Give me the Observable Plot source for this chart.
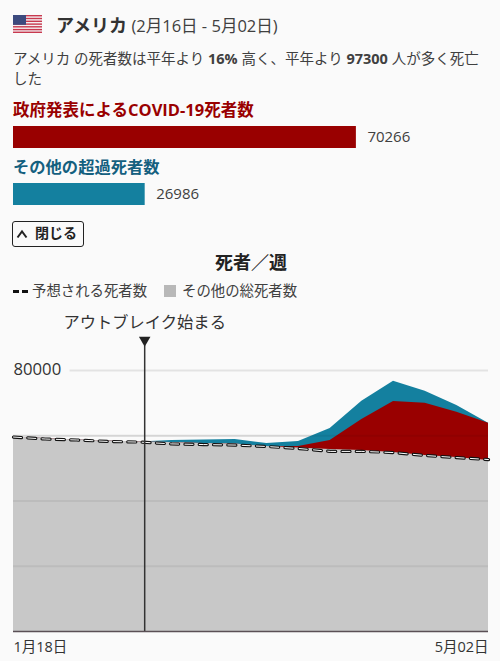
<!DOCTYPE html>
<html lang="ja"><head><meta charset="utf-8">
<script src="https://cdn.jsdelivr.net/npm/d3@7"></script>
<script src="https://cdn.jsdelivr.net/npm/@observablehq/plot@0.6"></script>
<style>
html,body{margin:0;padding:0;background:#fafafa;width:500px;height:661px;overflow:hidden}
body{position:relative;font-family:"Open Sans","Noto Sans CJK JP",sans-serif;color:#404040}
.a{position:absolute;white-space:nowrap}
svg{display:block;background:transparent}
</style></head><body>
<svg class="a" style="left:13px;top:15px" width="29" height="18" viewBox="0 0 29 18">
<rect width="29" height="18" fill="#f4f0f2"/>
<g fill="#c8394f"><rect y="0" width="29" height="1.4"/><rect y="2.8" width="29" height="1.4"/><rect y="5.6" width="29" height="1.4"/><rect y="8.4" width="29" height="1.4"/><rect y="11.1" width="29" height="1.4"/><rect y="13.9" width="29" height="1.4"/><rect y="16.6" width="29" height="1.4"/></g>
<rect width="13" height="9.8" fill="#3c4a7e"/></svg>
<div class="a" style="left:56px;top:12px;line-height:26px;font-size:16.5px"><b style="font-size:18px;color:#333">アメリカ</b> (2月16日 - 5月02日)</div>
<div class="a" style="left:13px;top:49px;line-height:20px;font-size:14.5px;width:475px;white-space:normal">アメリカ の死者数は平年より <b>16%</b> 高く、平年より <b>97300</b> 人が多く死亡した</div>
<div class="a" style="left:13px;top:98px;line-height:24px;font-size:16.5px;font-weight:700;color:#990000">政府発表によるCOVID-19死者数</div>
<div class="a" id="bar1" style="left:0;top:126px"></div>
<div class="a" style="left:13px;top:155px;line-height:24px;font-size:16.3px;font-weight:700;color:#14607f">その他の超過死者数</div>
<div class="a" id="bar2" style="left:0;top:183px"></div>
<div class="a" style="left:12px;top:221px;width:70px;height:24px;border:1px solid #222;border-radius:3px;line-height:22px;font-size:14px;font-weight:700;color:#222;background:#fafafa">
<svg class="a" style="left:3px;top:7px" width="12" height="10" viewBox="0 0 12 10"><polyline points="1.5,8.5 6,2.5 10.5,8.5" fill="none" stroke="#222" stroke-width="2"/></svg>
<span class="a" style="left:22px;top:0">閉じる</span></div>
<div class="a" style="left:0;width:500px;text-align:center;top:250px;line-height:24px;font-size:18px;font-weight:700;color:#222;padding-left:1px">死者／週</div>
<div class="a" style="left:13px;top:281px;line-height:20px;font-size:14.4px">
<svg class="a" style="left:0;top:9px" width="15" height="3"><path d="M0 1.5H6M9 1.5H15" stroke="#111" stroke-width="3"/></svg>
<span class="a" style="left:19px;top:0">予想される死者数</span>
<svg class="a" style="left:151px;top:4px" width="12" height="12"><rect width="12" height="12" fill="#b8b8b8"/></svg>
<span class="a" style="left:169px;top:0">その他の総死者数</span></div>
<div class="a" id="chart" style="left:0;top:310px"></div>
<script>
const weeks = ["2020-01-18","2020-01-25","2020-02-01","2020-02-08","2020-02-15","2020-02-22","2020-02-29","2020-03-07","2020-03-14","2020-03-21","2020-03-28","2020-04-04","2020-04-11","2020-04-18","2020-04-25","2020-05-02"];
const expectedDeaths = [59600,59000,58700,58250,58050,57500,57300,57150,56700,56100,55200,55200,54850,53950,53300,52700];
const otherTotal     = [59600,59150,58700,58400,58100,57900,57600,57450,56700,56250,55800,55500,54850,53950,53300,52400];
const withCovid      = [59600,59150,58700,58400,58100,57900,57600,57450,56700,56700,58550,65000,70500,70000,67200,63850];
const withExcess     = [59600,59150,58700,58400,58100,58550,58700,58850,57600,58250,62200,70600,76700,73650,69250,63850];
const gridValues = [20000,40000,60000,80000];
const covidDeaths = 70266, excessDeaths = 26986;
const outbreak = "2020-02-16";
const firstLabel = "1月18日", lastLabel = "5月02日", yLabel = "80000", outbreakLabel = "アウトブレイク始まる";
const colors = {covid:"#990000", excess:"#14809f", other:"#c8c8c8"};
const font = '"Open Sans","Noto Sans CJK JP",sans-serif';

const table = weeks.map((w,i)=>({date:new Date(w),expected:expectedDeaths[i],other:otherTotal[i],covid:withCovid[i],excess:withExcess[i]}));
const outbreakDate = new Date(outbreak);

function hbar(id,value,color){
  document.getElementById(id).append(Plot.plot({
    width:500,height:22,marginLeft:13,marginRight:0,marginTop:0,marginBottom:0,
    style:{background:"transparent",fontFamily:font},
    x:{domain:[0,99800],axis:null},y:{axis:null,domain:[0,1]},
    marks:[
      Plot.rectX([value],{x1:0,x2:d=>d,y1:0,y2:1,fill:color}),
      Plot.text([value],{x:d=>d,y:0.5,text:d=>String(d),dx:11,textAnchor:"start",fontSize:15,fill:"#404040"})
    ]}));
}
hbar("bar1",covidDeaths,colors.covid);
hbar("bar2",excessDeaths,colors.excess);

const d0=table[0].date,d1=table[table.length-1].date;
document.getElementById("chart").append(Plot.plot({
  width:500,height:351,marginLeft:13,marginRight:12,marginTop:60,marginBottom:30,
  style:{background:"transparent",fontFamily:font,overflow:"visible"},
  x:{type:"utc",domain:[d0,d1],axis:null},
  y:{domain:[0,80000],axis:null},
  marks:[
    Plot.ruleY(gridValues.filter(v=>v===80000),{y:d=>d,x1:new Date("2020-01-30T12:00Z"),x2:d1,stroke:"#000",strokeOpacity:0.09,strokeWidth:2}),
    Plot.ruleY(gridValues.filter(v=>v!==80000),{y:d=>d,x1:d0,x2:d1,stroke:"#000",strokeOpacity:0.09,strokeWidth:2}),
    Plot.areaY(table,{x:"date",y1:0,y2:"excess",fill:colors.excess}),
    Plot.areaY(table,{x:"date",y1:0,y2:"covid",fill:colors.covid}),
    Plot.areaY(table,{x:"date",y1:0,y2:"other",fill:colors.other}),
    Plot.ruleY(gridValues.filter(v=>v!==80000),{y:d=>d,x1:d0,x2:d1,stroke:"#000",strokeOpacity:0.06,strokeWidth:2}),
    Plot.line(table,{x:"date",y:"expected",stroke:"#111",strokeWidth:3.2,strokeDasharray:"8 6.3"}),
    Plot.line(table,{x:"date",y:"expected",stroke:"#fff",strokeWidth:1,strokeDasharray:"8 6.3"}),
    Plot.ruleX([outbreakDate],{x:d=>d,y1:0,y2:87600,stroke:"#333",strokeWidth:1.5}),
    Plot.dot([outbreakDate],{x:d=>d,y:89300,symbol:"triangle2",r:5.5,fill:"#222",rotate:180}),
    Plot.text([outbreakDate],{x:d=>d,y:94700,text:()=>outbreakLabel,fontSize:16.3,fill:"#333"}),
    Plot.text([yLabel],{frameAnchor:"left",y:80000,text:d=>d,textAnchor:"start",dy:-1,fontSize:16.7,fill:"#333"}),
    Plot.ruleY([0],{x1:d0,x2:d1,stroke:"#5a4f55",strokeWidth:1.5}),
    Plot.text([d0],{x:d=>d,y:0,dy:16,text:()=>firstLabel,textAnchor:"start",fontSize:14.5,fill:"#333"}),
    Plot.text([d1],{x:d=>d,y:0,dy:16,text:()=>lastLabel,textAnchor:"end",fontSize:14.5,fill:"#333"})
  ]}));
</script>
</body></html>
